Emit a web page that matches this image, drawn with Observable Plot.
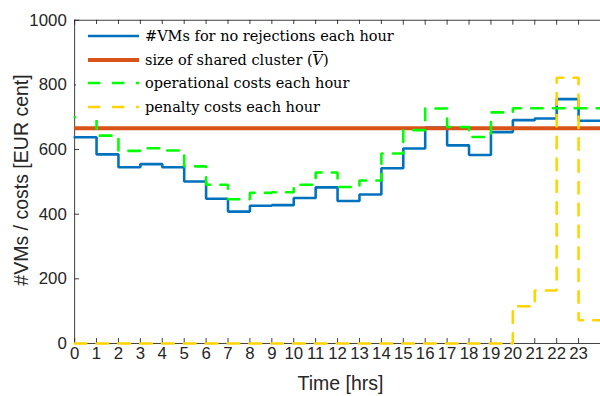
<!DOCTYPE html>
<html><head><meta charset="utf-8">
<script src="https://cdn.jsdelivr.net/npm/d3@7"></script>
<script src="https://cdn.jsdelivr.net/npm/@observablehq/plot@0.6"></script>
<style>
body{margin:0;overflow:hidden;background:#fff;}
#wrap{position:relative;width:600px;height:396px;overflow:hidden;}
#wrap > svg{position:absolute;left:0;top:0;}
#legend{position:absolute;left:76px;top:24px;width:326px;height:96px;background:#fff;font-family:"DejaVu Serif",serif;font-size:14.5px;color:#000;}
.row{position:absolute;left:12px;height:24px;display:flex;align-items:center;white-space:nowrap;}
.row svg{display:block;margin-right:6px;flex:none;}
.lab{position:absolute;font-family:"Liberation Sans",Arial,sans-serif;font-size:19.5px;color:#262626;white-space:nowrap;transform:translate(-50%,-50%);}
.ov{text-decoration:overline;font-style:italic;}
</style></head><body><div id="wrap"></div>
<script>
// ---- data ----
const hours = [0,1,2,3,4,5,6,7,8,9,10,11,12,13,14,15,16,17,18,19,20,21,22,23];
const hourEnd = 24;
const vms = [638,585,545,555,545,501,448,408,426,428,450,483,441,461,542,603,668,613,583,654,691,696,756,689];
const clusterSize = 666;
const opCosts = [700,643,596,604,597,548,491,446,466,468,491,529,484,504,588,660,727,670,639,715,728,728,728,728];
const penalty = [0,0,0,0,0,0,0,0,0,0,0,0,0,0,0,0,0,0,0,0,115,164,822,72];
const xTicks = hours;
const yTicks = [0,200,400,600,800,1000];
const legendLabels = ["#VMs for no rejections each hour","size of shared cluster","operational costs each hour","penalty costs each hour"];

const colors = {vms:"#0072BD", cluster:"#D95319", op:"#00FF00", pen:"#FFD400"};

// step table: each series with a closing point at hour 24
function steps(vals){
  const t = hours.map((h,i)=>({x:h, y:vals[i]}));
  t.push({x:hourEnd, y:vals[vals.length-1]});
  return t;
}

const W = 607, H = 396, mL = 75, mR = 0, mT = 20, mB = 49;
const tickPx = 5;
const yUnitsPerPx = 1000/(H-mB-mT);
const xUnitsPerPx = 24/(W-mL-mR);
const axisColor = "#262626";

const chart = Plot.plot({
  width: W, height: H,
  marginLeft: mL, marginRight: mR, marginTop: mT, marginBottom: mB,
  x: {domain:[0,24], axis:null},
  y: {domain:[0,1000], axis:null},
  style: {fontFamily:"'Liberation Sans', Arial, sans-serif", background:"#fff", overflow:"hidden"},
  marks: [
    // frame lines
    Plot.ruleX([0], {stroke:axisColor, strokeWidth:0.9}),
    Plot.ruleY([0], {stroke:axisColor, strokeWidth:0.9}),
    Plot.ruleY([1000], {stroke:axisColor, strokeWidth:0.9}),
    // inward ticks
    Plot.ruleX(xTicks, {x:d=>d, y1:0, y2:tickPx*yUnitsPerPx, stroke:axisColor, strokeWidth:0.9}),
    Plot.ruleX(xTicks, {x:d=>d, y1:1000, y2:1000-tickPx*yUnitsPerPx, stroke:axisColor, strokeWidth:0.9}),
    Plot.ruleY(yTicks, {y:d=>d, x1:0, x2:tickPx*xUnitsPerPx, stroke:axisColor, strokeWidth:0.9}),
    // tick labels
    Plot.axisX({ticks:xTicks, tickSize:0, tickPadding:4, fontSize:17, label:null, tickFormat:d=>String(d), color:axisColor}),
    Plot.axisY({ticks:yTicks, tickSize:0, tickPadding:8, fontSize:17, label:null, tickFormat:d=>String(d), color:axisColor}),
    // data
    Plot.line(steps(vms), {x:"x", y:"y", curve:"step-after", stroke:colors.vms, strokeWidth:2.6, strokeLinejoin:"miter"}),
    Plot.ruleY([clusterSize], {stroke:colors.cluster, strokeWidth:4.2}),
    Plot.line(steps(opCosts), {x:"x", y:"y", curve:"step-after", stroke:colors.op, strokeWidth:2.6, strokeDasharray:"11.7,10.4", strokeLinejoin:"miter"}),
    Plot.line(steps(penalty), {x:"x", y:"y", curve:"step-after", stroke:colors.pen, strokeWidth:2.6, strokeDasharray:"11.7,10.4", strokeLinejoin:"miter"})
  ]
});

const wrap = document.getElementById("wrap");
wrap.appendChild(chart);

// axis labels
const xl = document.createElement("div");
xl.className = "lab"; xl.textContent = "Time [hrs]";
xl.style.left = "340.5px"; xl.style.top = "383px";
wrap.appendChild(xl);
const yl = document.createElement("div");
yl.className = "lab"; yl.textContent = "#VMs / costs [EUR cent]";
yl.style.left = "21px"; yl.style.top = "180px";
yl.style.transform = "translate(-50%,-50%) rotate(-90deg)";
wrap.appendChild(yl);

// legend
const leg = document.createElement("div");
leg.id = "legend";
const items = [
  {c:colors.vms, w:2.6, dash:null, html:legendLabels[0]},
  {c:colors.cluster, w:4.2, dash:null, html:legendLabels[1] + ' (<span class="ov">V</span>)'},
  {c:colors.op, w:2.6, dash:"12.3,11.7", html:legendLabels[2]},
  {c:colors.pen, w:2.6, dash:"12.3,11.7", html:legendLabels[3]}
];
const rowTops = [0, 24, 47, 71];
items.forEach((it,i)=>{
  const r = document.createElement("div");
  r.className = "row";
  r.style.top = rowTops[i] + "px";
  r.innerHTML = `<svg width="51" height="24"><line x1="0" x2="51" y1="12" y2="12" stroke="${it.c}" stroke-width="${it.w}" ${it.dash?`stroke-dasharray="${it.dash}"`:""}/></svg><span>${it.html}</span>`;
  leg.appendChild(r);
});
wrap.appendChild(leg);
</script>
</body></html>
